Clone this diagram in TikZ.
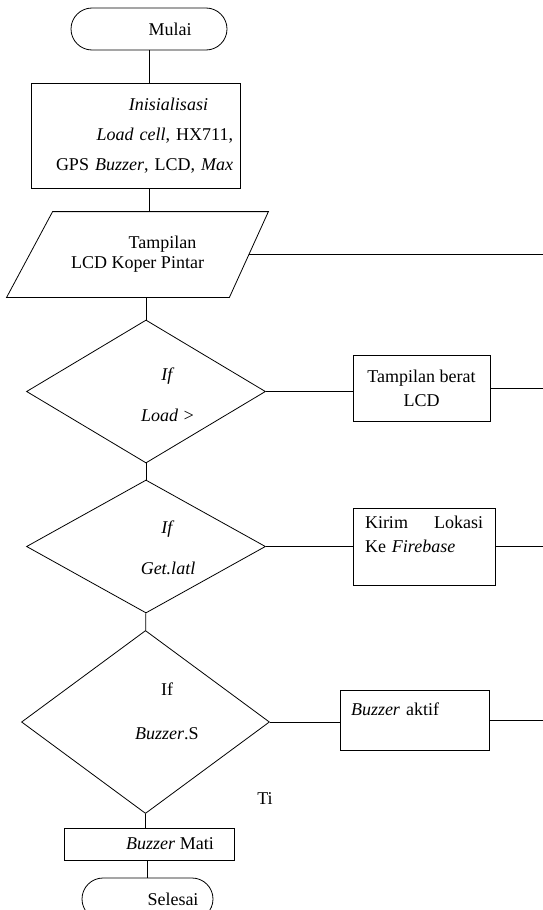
\documentclass[tikz,border=0pt]{standalone}
\usepackage{fontspec}
\setmainfont{Liberation Serif}
\usepackage{tikz}
\usetikzlibrary{shapes.geometric}

\begin{document}
\begin{tikzpicture}[x=1pt, y=-1pt, line width=0.8pt,
            font=\fontsize{18}{21}\selectfont,
            term/.style={draw, rectangle, rounded corners=21pt,
                        minimum width=156pt, minimum height=42pt, inner sep=0pt},
            box/.style={draw, rectangle, inner sep=0pt},
            io/.style={rectangle, minimum width=261pt, minimum height=85pt,
                        inner sep=0pt, align=center},
            decision/.style={draw, diamond, inner sep=0pt},
            lbl/.style={align=center, inner sep=0pt}]
          \path[use as bounding box, clip] (0,0) rectangle (543,910);
          \coordinate (tepi) at (543,0);
          \node[term] (mulai) at (149,29) {\kern42pt Mulai};
          \node[box, minimum width=209pt, minimum height=105pt, text width=195pt,
                align=right, font=\fontsize{18}{30}\selectfont] (init) at (135.5,135.5)
                {\textit{Inisialisasi}\kern25pt\\ \textit{Load cell}, HX711,\\ GPS \textit{Buzzer}, LCD, \textit{Max}};
          \node[io, font=\fontsize{18}{20}\selectfont] (disp) at (137.5,254.5)
                {\kern50pt Tampilan\\LCD Koper Pintar};
          \draw ([xshift=46pt]disp.north west) -- (disp.north east)
                -- ([xshift=-39pt]disp.south east) -- (disp.south west) -- cycle;
          \node[decision, minimum width=239pt, minimum height=143pt] (cekberat) at (146,391.5) {};
          \node[lbl, font=\fontsize{18}{41}\selectfont] (cekberat-t) at (168,394.5)
                {\textit{If}\\\textit{Load >}};
          \node[box, minimum width=137pt, minimum height=66pt, align=center,
                font=\fontsize{18}{24}\selectfont] (berat) at (421.5,388) {Tampilan berat\\LCD};
          \node[decision, minimum width=239pt, minimum height=133pt] (ceklok) at (146,546.5) {};
          \node[lbl, font=\fontsize{18}{41}\selectfont] (ceklok-t) at (168,548)
                {\textit{If}\\\textit{Get.latl}};
          \node[box, minimum width=142pt, minimum height=77pt, text width=118pt, align=left,
                font=\fontsize{18}{24}\selectfont] (kirim) at (424,546.5)
                {Kirim\hfill Lokasi\\Ke \textit{Firebase}\\\mbox{}};
          \node[decision, minimum width=248pt, minimum height=183pt] (cekbuzz) at (145.5,722) {};
          \node[lbl, font=\fontsize{18}{44}\selectfont] (cekbuzz-t) at (167,711)
                {If\\\textit{Buzzer}.S};
          \node[box, minimum width=149pt, minimum height=60pt, text width=127pt, align=left,
                font=\fontsize{18}{22}\selectfont] (aktif) at (414.5,720) {\textit{Buzzer} aktif\\\mbox{}};
          \node (ti) at (265,799) {Ti};
          \node[box, minimum width=170pt, minimum height=32pt] (mati) at (149,844)
                {\kern42pt\textit{Buzzer} Mati};
          \node[term, minimum width=131pt] (selesai) at (147.5,899) {\kern51pt Selesai};
          \draw (mulai) -- (mulai |- init.north);
          \draw (init.south -| mulai) -- (disp.north -| mulai);
          \draw (disp.south -| cekberat) -- (cekberat);
          \draw (cekberat) -- (ceklok);
          \draw (ceklok) -- (cekbuzz);
          \draw (cekbuzz) -- (cekbuzz |- mati.north);
          \draw (selesai |- mati.south) -- (selesai);
          \draw ([xshift=-19.5pt]disp.east) -- (disp.east -| tepi);
          \draw (cekberat) -- (cekberat -| berat.west);
          \draw (berat) -- (berat -| tepi);
          \draw (ceklok) -- (kirim);
          \draw (kirim) -- (kirim -| tepi);
          \draw (cekbuzz) -- (cekbuzz -| aktif.west);
          \draw (aktif) -- (aktif -| tepi);
        \end{tikzpicture}
\end{document}
